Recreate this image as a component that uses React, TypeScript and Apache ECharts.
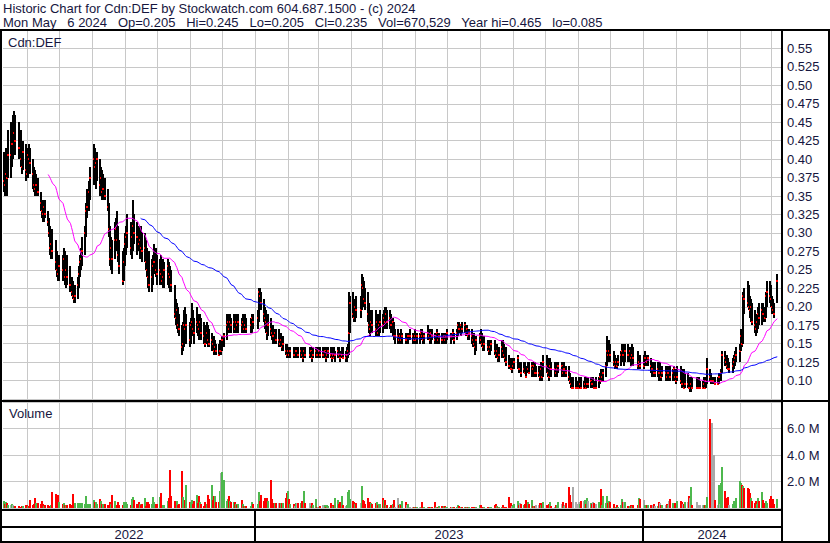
import React, { useEffect, useRef } from 'react';
import * as echarts from 'echarts';

// ---------- calendar ----------
const HOLIDAYS = [
  '2022-05-23', '2022-07-01', '2022-08-01', '2022-09-05', '2022-10-10', '2022-12-26', '2022-12-27',
  '2023-01-02', '2023-02-20', '2023-04-07', '2023-05-22', '2023-07-03', '2023-08-07', '2023-09-04',
  '2023-10-09', '2023-12-25', '2023-12-26', '2024-01-01', '2024-02-19', '2024-03-29',
];
const FIRST_DAY = Date.UTC(2022, 4, 9);
const LAST_DAY = Date.UTC(2024, 4, 6);
const AXIS_MIN = Date.UTC(2022, 4, 9);
const AXIS_MAX = Date.UTC(2024, 4, 10);
const DAY = 86400000;

// ---------- daily data, one line per week (prices in cents, volume in thousands) ----------
const highCents = [
  41, 40.5, 41.5, 41, 44,
  45, 44.5, 46, 46.5, 46,
  45, 44, 42, 42.5,
  42, 40.5, 41.5, 42, 41.5,
  40, 39, 38.5, 38, 37.5,
  35.5, 34.5, 34.5, 34, 34.5,
  33, 32, 31, 30, 30.5,
  29, 27.5, 26.5, 27,
  27, 28, 27.5, 26.5, 27,
  25.5, 24, 23.5, 22.5, 23,
  24, 25.5, 27, 28, 29.5,
  31, 34, 36, 37, 39,
  42, 41.5, 40.5, 41,
  40, 39, 38.5, 38, 37.5,
  36, 34, 31, 29.5, 29,
  31.5, 32, 33, 31, 29,
  27.5, 28, 30, 31, 32.5,
  31.5, 30.5, 34.5, 32.5,
  31.5, 31, 30.5, 31, 30,
  30, 29, 28, 27, 27.5,
  26.5, 27, 28.5, 28, 27,
  26.5, 27, 26, 26.5, 26,
  26.5, 26, 25.5, 25,
  23, 21, 20.5, 20, 19,
  17.5, 18, 19.5, 20, 19,
  18, 18.5, 20.5, 19.5, 18.5,
  20, 19, 18.5, 19, 18.5,
  18, 17.5, 18, 17.5, 17,
  16.5, 16, 16, 15.5, 15,
  15, 15.5, 15.5, 16, 16.5,
  19, 19, 18.5, 19, 18.5,
  19, 18.5, 19, 18.5, 19,
  18.5, 19, 18.5, 19, 18.5,
  18.5, 19, 19,
  19.5, 22.5, 22.5, 22,
  21, 20, 19.5, 19, 19,
  18.5, 17.5, 17.5, 17, 17,
  17, 16.5, 16.5, 16, 16,
  15, 15, 14.5, 14.5, 14.5,
  14.5, 14, 14.5, 14.5, 14.5,
  14.5, 14.5, 14, 14.5, 14.5,
  14.5, 14.5, 14, 14.5,
  14.5, 14.5, 14, 14.5, 14.5,
  14.5, 14.5, 14, 14.5, 14.5,
  14.5, 14, 14.5, 14.5, 14,
  14.5, 14.5, 14, 14.5, 14.5,
  14, 14.5, 15, 22, 21.5,
  22, 21, 21, 21.5,
  21.5, 24.5, 24, 23.5, 22.5,
  22, 20.5, 19.5, 19, 19.5,
  19.5, 19, 19, 18.5, 19.5,
  19, 19.5, 20, 20, 19.5,
  19.5, 19, 18.5, 18, 17,
  17, 16.5, 16.5, 17, 16.5,
  16.5, 16, 16.5, 17,
  16.5, 16.5, 17, 16.5, 16.5,
  16.5, 17, 17, 16.5, 16.5,
  17.5, 17, 16.5, 17, 17,
  16.5, 16.5, 17, 16.5, 16.5,
  16.5, 16.5, 16, 16.5, 17,
  16.5, 16.5, 17, 16.5,
  17, 18, 18, 17.5, 18,
  18, 17.5, 17.5, 17, 17,
  17, 16.5, 16.5, 16, 16,
  16.5, 17, 16.5, 16, 16,
  15.5, 15.5, 15, 15.5,
  15.5, 15, 15, 14.5, 14.5,
  15.5, 15.5, 15, 14.5, 14.5,
  13.5, 13, 12.5, 13, 13,
  13.5, 12.5, 12.5, 12.5,
  12.5, 12.5, 12, 12.5, 12.5,
  12.5, 12, 12.5, 12.5, 12,
  12, 12, 12.5, 12, 13.5,
  13.5, 13, 12.5, 13, 12.5,
  12.5, 12.5, 12, 12.5,
  12.5, 12, 12.5, 12, 12,
  12, 11, 10.5, 10.5, 10.5,
  10.5, 10, 10.5, 10, 10.5,
  10, 10.5, 10, 10.5, 10.5,
  10.5, 10, 10.5, 10, 10.5,
  10.5, 11, 11.5, 11, 11.5,
  12.5, 16, 15.5, 15.5, 15,
  14, 13.5, 13, 13, 13.5,
  14, 15, 15, 14.5, 15,
  15, 14.5, 14.5, 15, 14.5,
  14, 13.5, 13.5,
  13.5, 14, 13.5, 13.5,
  13, 12.5, 12.5, 12, 12.5,
  12.5, 12, 12.5, 12, 12,
  12, 12, 11.5, 12, 12,
  11.5, 12, 11.5, 11.5, 12,
  12, 11.5, 11, 11.5, 11,
  11, 10.5, 10.5, 10, 10.5,
  10.5, 10, 10.5, 10,
  10, 10.5, 10, 10.5, 13,
  11.5, 11, 10.5, 10.5, 10.5,
  10.5, 11, 11, 11.5, 14,
  14, 13.5, 13.5, 13, 12.5,
  13, 13.5, 14, 14.5,
  15, 17, 16.5, 22, 22.5,
  23.5, 23, 21.5, 21, 20.5,
  19.5, 18.5, 19, 20, 20.5,
  20.5, 20.5, 20, 22, 23.5,
  23.5, 23, 21.5, 21, 20.5,
  24.5,
];

const lowCents = [
  35.5, 35, 36, 35, 37.5,
  37.5, 39, 40, 41, 40.5,
  40, 39, 38, 38.5,
  37, 37.5, 37.5, 38.5, 38,
  36, 35.5, 35, 35, 35,
  33, 32, 31.5, 31.5, 32,
  31, 29.5, 27, 26.5, 26.5,
  25, 24, 23.5, 23.5,
  23.5, 24, 23, 22.5, 23,
  22, 21.5, 21, 20.5, 20.5,
  21, 22.5, 24, 25, 25.5,
  27, 29.5, 32, 33, 34.5,
  36.5, 37, 36, 37,
  35, 35, 34.5, 34.5, 34.5,
  33, 29.5, 25.5, 25, 24.5,
  26.5, 27.5, 28, 26, 24.5,
  23, 23.5, 25.5, 27, 28,
  27, 26.5, 27.5, 28.5,
  27, 27.5, 26.5, 27, 26,
  26, 25, 24, 22.5, 22,
  22, 23, 24.5, 24, 23,
  23, 23.5, 23, 22.5, 22.5,
  23, 22.5, 22, 22,
  18.5, 17.5, 17, 16.5, 16,
  13.5, 14, 14.5, 16, 15,
  14.5, 15, 16.5, 16, 15,
  16.5, 16, 15.5, 16, 15.5,
  15, 14.5, 15, 14.5, 14.5,
  14, 14, 13.5, 13.5, 13.5,
  13.5, 13.5, 13.5, 14, 14.5,
  15.5, 16.5, 16.5, 16.5, 16.5,
  16.5, 16.5, 16.5, 16.5, 16.5,
  16.5, 16.5, 16.5, 16.5, 16.5,
  16.5, 16.5, 17,
  17, 18, 20, 19.5,
  18, 17, 16.5, 15.5, 16,
  16, 15.5, 15, 15, 15,
  14.5, 14.5, 14.5, 14, 14,
  13.5, 13, 13, 13, 13,
  13, 13, 13, 13.5, 13,
  13, 13, 12.5, 13, 13,
  13, 13, 12.5, 13,
  13, 13, 13, 13, 13,
  13, 13, 12.5, 13, 13,
  13, 12.5, 13, 13, 12.5,
  13, 13, 12.5, 13, 13,
  12.5, 12.5, 13, 13.5, 16.5,
  18.5, 18, 18, 18.5,
  18.5, 19.5, 20.5, 20, 19.5,
  18, 16.5, 16, 16.5, 16.5,
  16, 16.5, 16, 16, 16.5,
  16.5, 17, 17, 17.5, 17,
  17, 16.5, 16, 15.5, 15,
  15, 15, 15, 15, 15,
  15, 15, 15, 15.5,
  15, 15, 15.5, 15, 15,
  15, 15.5, 15.5, 15, 15,
  15.5, 15.5, 15, 15, 15.5,
  15, 15, 15.5, 15, 15,
  15, 15, 15, 15, 15.5,
  15, 15.5, 15.5, 15,
  15.5, 16, 16.5, 16, 16.5,
  16.5, 16, 16, 15.5, 15.5,
  15, 14.5, 14.5, 13.5, 14,
  15, 15, 14.5, 14, 14,
  14, 13.5, 13.5, 14,
  13.5, 13, 13, 12.5, 12.5,
  13, 13.5, 13, 12.5, 12,
  11.5, 11.5, 11, 11.5, 11.5,
  11.5, 11, 11, 10.5,
  11, 11, 10.5, 11, 11,
  10.5, 10.5, 11, 10.5, 10.5,
  10.5, 10, 10, 10, 10.5,
  11, 10.5, 10, 10.5, 10.5,
  10.5, 10.5, 10.5, 11,
  10.5, 10.5, 10.5, 10.5, 10.5,
  10, 9.5, 9, 9, 9,
  9, 9, 9, 9, 9,
  9, 9, 9, 9, 9,
  9, 9, 9, 9, 9,
  9, 9.5, 10, 10, 10,
  10.5, 12, 13, 12.5, 12.5,
  12, 11.5, 11.5, 11.5, 12,
  12, 12.5, 12.5, 12, 12.5,
  12.5, 12.5, 12, 12.5, 12,
  11.5, 11.5, 11.5,
  11.5, 12, 12, 12,
  11, 10.5, 10.5, 10.5, 10.5,
  10.5, 10, 10.5, 10, 10.5,
  10, 10, 10, 10.5, 10,
  10, 10, 10, 9.5, 10,
  9.5, 9, 9, 9, 9,
  9, 9, 8.5, 8.5, 9,
  9, 9, 9, 9,
  9, 9, 9, 9, 9.5,
  10, 9.5, 9.5, 9.5, 9.5,
  9.5, 9.5, 10, 10, 11,
  12, 12, 11.5, 11.5, 11,
  11, 11.5, 12, 12.5,
  12.5, 14, 14.5, 15, 19,
  20, 19.5, 18.5, 18, 17.5,
  16.5, 16, 16.5, 17, 17.5,
  17.5, 18, 18, 18.5, 20,
  20.5, 20, 19, 19, 18.5,
  20.5,
];

const closeCents = [
  37, 36.5, 38, 37.5, 40.5,
  40.5, 42, 42, 43.5, 42.5,
  41.5, 40, 39, 41,
  38.5, 38, 40.5, 40, 39.5,
  38, 36.5, 36, 36.5, 35.5,
  34, 33, 32.5, 33.5, 32.5,
  31.5, 30, 28, 28.5, 27.5,
  26, 25, 24.5, 25.5,
  25, 26.5, 24, 25, 24,
  23, 22, 21.5, 21, 21.5,
  23, 24.5, 26, 26.5, 27.5,
  30, 33, 33.5, 35.5, 37.5,
  40, 39, 39.5, 40,
  36.5, 37.5, 35.5, 36, 35,
  33.5, 30.5, 26.5, 28, 26.5,
  29, 30.5, 29, 27, 25.5,
  23.5, 26, 28.5, 29.5, 30,
  28, 29.5, 31, 30,
  29.5, 28.5, 29, 28, 27.5,
  28, 26, 25, 24, 23,
  24, 25.5, 26, 25, 24.5,
  25, 24.5, 23.5, 24, 25,
  25.5, 24.5, 24, 23,
  19, 18.5, 19.5, 17.5, 17,
  14.5, 15, 17.5, 17, 17.5,
  15.5, 17.5, 18, 17, 16.5,
  18, 17.5, 17, 18, 16.5,
  16, 15, 16.5, 15.5, 15,
  15.5, 15, 14, 14.5, 14,
  13.5, 14, 14, 15.5, 16,
  17.5, 18, 17, 18, 17.5,
  18, 17, 18, 17.5, 18,
  17.5, 18, 17, 17.5, 17,
  17.5, 18.5, 18,
  18.5, 22, 21.5, 20.5,
  19, 18.5, 18, 16.5, 17.5,
  17, 16.5, 16, 16.5, 15.5,
  15.5, 15, 15.5, 14.5, 15,
  14, 13.5, 14, 13.5, 14,
  13.5, 13.5, 14, 14, 13.5,
  14, 13.5, 13, 14, 13.5,
  13.5, 14, 13, 13.5,
  14, 13.5, 13.5, 14, 13.5,
  13.5, 14, 13, 13.5, 14,
  13.5, 13, 13.5, 13, 13.5,
  14, 13.5, 13, 13.5, 13,
  13, 13.5, 14, 16.5, 20.5,
  19, 18.5, 20, 19.5,
  19.5, 23, 22.5, 21, 20.5,
  19, 17.5, 17, 18, 17.5,
  17, 18, 16.5, 17.5, 18,
  17.5, 18.5, 18, 19, 18,
  18.5, 17.5, 18, 16, 16,
  16, 15.5, 16, 15.5, 16,
  15.5, 15.5, 16, 16,
  16, 15.5, 16, 15.5, 16,
  16, 16.5, 16, 15.5, 16,
  16.5, 16, 15.5, 16.5, 16,
  15.5, 16, 16.5, 15.5, 16,
  15.5, 16, 15.5, 16, 16.5,
  16, 16, 16.5, 15.5,
  16.5, 17.5, 17, 17.5, 17,
  17.5, 16.5, 17, 16, 16.5,
  16, 15.5, 15, 14.5, 15.5,
  16, 15.5, 15, 14.5, 15,
  14.5, 14, 14.5, 15,
  14, 13.5, 14, 13, 13.5,
  14.5, 14, 13.5, 13, 12.5,
  12, 11.5, 11.5, 12, 12.5,
  13, 11.5, 11.5, 11,
  11.5, 11, 10.5, 11.5, 11,
  12, 11.5, 12, 11, 11,
  11, 10.5, 11.5, 10.5, 12.5,
  12, 11, 10.5, 12, 11.5,
  11.5, 11, 11.5, 12,
  12, 11, 11.5, 11.5, 11,
  10.5, 10, 9.5, 9, 9,
  9, 9, 9, 9.5, 9,
  9, 9.5, 9, 9.5, 9.5,
  10, 9.5, 9.5, 9, 9,
  10, 10.5, 10, 10.5, 11,
  12, 14, 13.5, 14, 13.5,
  12.5, 12, 12.5, 12, 12.5,
  13.5, 14, 13.5, 13.5, 14,
  13.5, 14, 13, 13.5, 13,
  12, 12.5, 12,
  12, 13, 12.5, 13,
  12, 11.5, 11.5, 11, 11,
  11.5, 11, 11, 10.5, 11,
  11, 10.5, 11, 11, 10.5,
  11, 11.5, 10.5, 10, 10.5,
  10, 9.5, 9.5, 9, 9.5,
  9.5, 9, 9, 9.5, 9,
  9, 9, 9, 9,
  9, 9.5, 9, 10, 11.5,
  10.5, 10, 10, 10, 9.5,
  9.5, 10.5, 10.5, 11, 13.5,
  13, 12.5, 12, 11.5, 11.5,
  12, 12.5, 13, 13.5,
  14, 16, 15, 21.5, 21,
  20.5, 20, 19.5, 20, 18,
  17.5, 17, 18, 19, 18.5,
  19.5, 19, 18.5, 21.5, 22,
  21.5, 21, 20, 19.5, 19,
  23.5,
];

const volumeK = [
  550, 300, 480, 400, 250,
  250, 300, 200, 180, 150,
  120, 100, 120, 150,
  230, 200, 180, 150, 600,
  250, 300, 780, 350, 380,
  300, 500, 300, 180, 230,
  230, 150, 100, 200, 1240,
  1050, 1000, 950, 480,
  300, 350, 230, 250, 230,
  300, 250, 1060, 400, 400,
  400, 380, 400, 350, 400,
  300, 930, 300, 280, 300,
  630, 480, 430, 300,
  680, 500, 300, 300, 280,
  230, 250, 480, 300, 1000,
  550, 230, 250, 480, 230,
  250, 430, 430, 480, 300,
  230, 680, 800, 630,
  300, 430, 300, 250, 300,
  750, 180, 480, 480, 300,
  300, 860, 430, 300, 300,
  860, 1130, 230, 250, 200,
  550, 750, 2900, 880,
  550, 550, 550, 230, 300,
  2800, 800, 500, 600, 1770,
  480, 430, 630, 300, 500,
  980, 350, 930, 480, 300,
  180, 430, 300, 980, 680,
  1770, 630, 880, 930, 430,
  430, 1300, 2650, 2750, 2150,
  500, 680, 880, 550, 480,
  480, 450, 300, 250, 300,
  600, 300, 180, 150, 150,
  180, 430, 300,
  300, 1240, 550, 1000,
  500, 780, 300, 750, 550,
  2100, 700, 380, 350, 400,
  400, 400, 400, 350, 350,
  750, 1100, 1250, 700, 300,
  300, 150, 350, 350, 400,
  400, 500, 300, 1280, 350,
  350, 150, 350, 200,
  700, 100, 100, 100, 150,
  250, 200, 100, 200, 150,
  350, 250, 150, 200, 750,
  600, 300, 450, 900, 250,
  150, 250, 1200, 1350, 700,
  500, 450, 300, 400,
  400, 1650, 600, 500, 300,
  750, 300, 450, 350, 300,
  350, 450, 200, 300, 300,
  750, 600, 600, 250, 250,
  100, 200, 300, 600, 100,
  750, 250, 300, 200, 550,
  450, 250, 300, 100,
  100, 100, 80, 100, 100,
  80, 80, 450, 100, 80,
  80, 80, 80, 80, 80,
  450, 80, 80, 60, 150,
  150, 150, 150, 100, 80,
  100, 100, 100, 80,
  100, 200, 150, 100, 100,
  100, 100, 80, 100, 80,
  100, 80, 80, 80, 100,
  200, 200, 100, 80, 100,
  100, 80, 80, 100,
  200, 300, 150, 100, 100,
  100, 200, 100, 100, 80,
  800, 400, 150, 250, 300,
  550, 250, 400, 300,
  250, 300, 600, 450, 300,
  600, 150, 150, 150, 250,
  250, 400, 200, 400, 450,
  250, 150, 300, 450, 150,
  100, 250, 200, 450,
  300, 450, 150, 200, 350,
  1600, 950, 450, 450, 1600,
  450, 300, 450, 300, 550,
  550, 600, 300, 750, 500,
  350, 300, 450, 350, 300,
  450, 450, 1400, 250, 900,
  350, 900, 350, 550, 450,
  300, 100, 100, 200, 100,
  200, 650, 450, 450, 450,
  150, 150, 200, 150, 250,
  250, 750, 700,
  600, 250, 200, 200,
  200, 200, 250, 300, 150,
  150, 450, 350, 200, 200,
  250, 300, 200, 550, 700,
  350, 400, 400, 300, 550,
  550, 450, 300, 300, 450,
  450, 900, 750, 1600, 200,
  450, 250, 250, 200,
  200, 250, 200, 250, 800,
  6700, 6200, 6400, 4000, 600,
  200, 1750, 300, 1900, 3100,
  1250, 750, 500, 800, 250,
  300, 550, 500, 750,
  2070, 1900, 1740, 1640, 1490,
  1540, 1440, 1140, 730, 550,
  400, 550, 300, 730, 550,
  1240, 630, 380, 550, 400,
  680, 930, 430, 680, 300,
  671,
];

const MA_SHORT = 30;
const MA_LONG = 90;
const yearLabels = ['2022', '2023', '2024'];
const yearStarts = [Date.UTC(2022, 0, 1), Date.UTC(2023, 0, 1), Date.UTC(2024, 0, 1), Date.UTC(2025, 0, 1)];
const volumeTickLabels: Record<number, string> = { 2000: '2.0 M', 4000: '4.0 M', 6000: '6.0 M' };
const HEADER_1 = 'Historic Chart for Cdn:DEF by Stockwatch.com 604.687.1500 - (c) 2024';
const HEADER_2 = 'Mon May   6 2024   Op=0.205   Hi=0.245   Lo=0.205   Cl=0.235   Vol=670,529   Year hi=0.465   lo=0.085';
const PANEL_PRICE = 'Cdn:DEF';
const PANEL_VOLUME = 'Volume';

const TEXT = '#16163e';
const FONT = "'Liberation Sans', Arial, Helvetica, sans-serif";
const GRID_GRAY = '#c8c8c8';

function tradingDays(): number[] {
  const hol = new Set(HOLIDAYS);
  const out: number[] = [];
  for (let t = FIRST_DAY; t <= LAST_DAY; t += DAY) {
    const d = new Date(t);
    const dow = d.getUTCDay();
    if (dow === 0 || dow === 6) continue;
    if (hol.has(d.toISOString().slice(0, 10))) continue;
    out.push(t);
  }
  return out;
}

function fmtPrice(v: number): string {
  if (v < 0.09 || v > 0.56) return '';
  const s = v.toFixed(3);
  return s.endsWith('0') ? s.slice(0, -1) : s;
}

function buildOption() {
  const days = tradingDays();
  const n = Math.min(days.length, highCents.length, lowCents.length, closeCents.length, volumeK.length);
  const ts = days.slice(0, n).map((d) => d + DAY / 2);
  const closes = closeCents.slice(0, n).map((c) => c / 100);

  const priceRows: number[][] = [];
  const volRows: number[][] = [];
  for (let i = 0; i < n; i++) {
    priceRows.push([ts[i], highCents[i] / 100, lowCents[i] / 100, closes[i]]);
    const dir = i === 0 ? 1 : Math.sign(Math.round((closes[i] - closes[i - 1]) * 1000));
    volRows.push([ts[i], volumeK[i], dir]);
  }

  const sma = (N: number) => {
    const out: number[][] = [];
    let sum = 0;
    for (let i = 0; i < n; i++) {
      sum += closes[i];
      if (i >= N) sum -= closes[i - N];
      if (i >= N - 1) out.push([ts[i], sum / N]);
    }
    return out;
  };

  const monthStarts: number[] = [];
  for (let y = 2022; y <= 2024; y++) {
    for (let m = 0; m < 12; m++) {
      const t = Date.UTC(y, m, 1);
      if (t > AXIS_MIN && t < AXIS_MAX) monthStarts.push(t);
    }
  }

  const yearRows: number[][] = [];
  for (let i = 0; i < yearLabels.length; i++) {
    const a = Math.max(AXIS_MIN, yearStarts[i]);
    const b = Math.min(AXIS_MAX, yearStarts[i + 1]);
    if (b > a) yearRows.push([a, b, i]);
  }

  const gridLineItem = (params: any, api: any) => {
    const x = Math.round(api.coord([api.value(0), api.value(1)])[0]) + 0.5;
    const cs = params.coordSys;
    return {
      type: 'line',
      shape: { x1: x, y1: cs.y, x2: x, y2: cs.y + cs.height },
      style: { stroke: GRID_GRAY, lineWidth: 1 },
      silent: true,
    };
  };

  const series: any[] = [
    {
      type: 'custom', name: 'monthGridPrice', xAxisIndex: 0, yAxisIndex: 0, z: 1, silent: true,
      data: monthStarts.map((m) => [m, 0.3]), renderItem: gridLineItem,
    },
    {
      type: 'custom', name: 'monthGridVolume', xAxisIndex: 1, yAxisIndex: 1, z: 1, silent: true,
      data: monthStarts.map((m) => [m, 0]), renderItem: gridLineItem,
    },
    {
      // high-low bar with the close marked in red; later days overlap part of earlier marks
      type: 'custom', name: 'priceBars', xAxisIndex: 0, yAxisIndex: 0, z: 3, silent: true,
      data: priceRows, encode: { x: 0, y: [1, 2, 3] },
      renderItem: (params: any, api: any) => {
        const p = api.coord([api.value(0), api.value(1)]);
        const q = api.coord([api.value(0), api.value(2)]);
        const c = api.coord([api.value(0), api.value(3)]);
        const x = Math.round(p[0]);
        const y1 = Math.round(p[1]);
        const y2 = Math.round(q[1]);
        return {
          type: 'group',
          children: [
            {
              type: 'rect',
              shape: { x: x - 1, y: y1, width: 2, height: Math.max(1, y2 - y1) },
              style: { fill: '#000000' },
            },
            {
              type: 'rect',
              shape: { x: x - 1, y: Math.round(c[1]) - 1, width: 2, height: 2 },
              style: { fill: '#ff0000' },
            },
          ],
        };
      },
    },
    {
      type: 'line', name: 'MA' + MA_SHORT, xAxisIndex: 0, yAxisIndex: 0, z: 5, silent: true,
      data: sma(MA_SHORT), showSymbol: false, symbol: 'none',
      lineStyle: { color: '#ff00ff', width: 1 },
    },
    {
      type: 'line', name: 'MA' + MA_LONG, xAxisIndex: 0, yAxisIndex: 0, z: 5, silent: true,
      data: sma(MA_LONG), showSymbol: false, symbol: 'none',
      lineStyle: { color: '#0000ff', width: 1 },
    },
    {
      type: 'custom', name: 'volume', xAxisIndex: 1, yAxisIndex: 1, z: 3, silent: true,
      data: volRows, encode: { x: 0, y: 1 },
      renderItem: (params: any, api: any) => {
        const top = api.coord([api.value(0), api.value(1)]);
        const base = api.coord([api.value(0), 0]);
        const x = Math.round(top[0]);
        const y1 = Math.round(top[1]);
        const y2 = Math.round(base[1]);
        const d = api.value(2);
        const fill = d > 0 ? '#4db84d' : d < 0 ? '#ff0000' : '#a9a9a9';
        const h = Math.max(1, y2 - y1);
        return {
          type: 'rect',
          shape: { x: x - 1, y: y2 - h, width: 2, height: h },
          style: { fill },
        };
      },
    },
    {
      type: 'custom', name: 'years', xAxisIndex: 2, yAxisIndex: 2, z: 6, silent: true,
      data: yearRows,
      renderItem: (params: any, api: any) => {
        const cs = params.coordSys;
        const x0 = api.coord([api.value(0), 0.5])[0];
        const x1 = api.coord([api.value(1), 0.5])[0];
        const idx = api.value(2);
        const children: any[] = [
          {
            type: 'text',
            x: Math.round((x0 + x1) / 2),
            y: cs.y + cs.height / 2 + 0.5,
            style: {
              text: yearLabels[idx], fill: TEXT, font: '13px ' + FONT,
              align: 'center', verticalAlign: 'middle', textAlign: 'center', textVerticalAlign: 'middle',
            },
          },
        ];
        if (api.value(0) > AXIS_MIN) {
          children.push({
            type: 'rect',
            shape: { x: Math.round(x0) - 1, y: cs.y - 18, width: 2, height: cs.height + 20 },
            style: { fill: '#000000' },
          });
        }
        return { type: 'group', children };
      },
    },
  ];

  const bar = (x: number, y: number, w: number, h: number) => ({
    type: 'rect', shape: { x, y, width: w, height: h }, style: { fill: '#000000' }, z: 100, silent: true,
  });
  const label = (text: string, x: number, y: number) => ({
    type: 'text', x, y, z: 101, silent: true,
    style: { text, fill: TEXT, font: '13px ' + FONT, textVerticalAlign: 'middle', verticalAlign: 'middle' },
  });

  return {
    animation: false,
    backgroundColor: '#ffffff',
    grid: [
      { left: 3, top: 30, width: 778, height: 369 },
      { left: 3, top: 402, width: 778, height: 106 },
      { left: 3, top: 527, width: 778, height: 14 },
    ],
    xAxis: [0, 1, 2].map((g) => ({ type: 'time', gridIndex: g, min: AXIS_MIN, max: AXIS_MAX, show: false })),
    yAxis: [
      {
        type: 'value', gridIndex: 0, min: 0.075, max: 0.575, interval: 0.025, position: 'right',
        axisLine: { show: false }, axisTick: { show: false },
        axisLabel: { color: TEXT, fontSize: 13, fontFamily: FONT, margin: 6, formatter: fmtPrice },
        splitLine: { show: true, lineStyle: { color: GRID_GRAY, width: 1 } },
      },
      {
        type: 'value', gridIndex: 1, min: 0, max: 8000, interval: 2000, position: 'right',
        axisLine: { show: false }, axisTick: { show: false },
        axisLabel: {
          color: TEXT, fontSize: 13, fontFamily: FONT, margin: 6,
          formatter: (v: number) => volumeTickLabels[Math.round(v)] ?? '',
        },
        splitLine: { show: true, lineStyle: { color: GRID_GRAY, width: 1 } },
      },
      { type: 'value', gridIndex: 2, min: 0, max: 1, show: false },
    ],
    series,
    graphic: {
      elements: [
        label(HEADER_1, 3, 8),
        label(HEADER_2, 3, 22),
        label(PANEL_PRICE, 8, 42),
        label(PANEL_VOLUME, 9, 413),
        bar(0, 29, 830, 2),
        bar(0, 29, 2, 514),
        bar(781, 29, 2, 514),
        bar(828, 29, 2, 514),
        bar(0, 400, 830, 2),
        bar(0, 509, 783, 2),
        bar(0, 526, 783, 2),
        bar(0, 541, 830, 2),
      ],
    },
  };
}

export default function App() {
  const ref = useRef<HTMLDivElement>(null);
  useEffect(() => {
    document.body.style.margin = '0';
    const chart = echarts.init(ref.current as HTMLDivElement, null, { renderer: 'svg' });
    chart.setOption(buildOption() as any);
    return () => chart.dispose();
  }, []);
  return <div ref={ref} style={{ width: 830, height: 543, background: '#ffffff' }} />;
}
